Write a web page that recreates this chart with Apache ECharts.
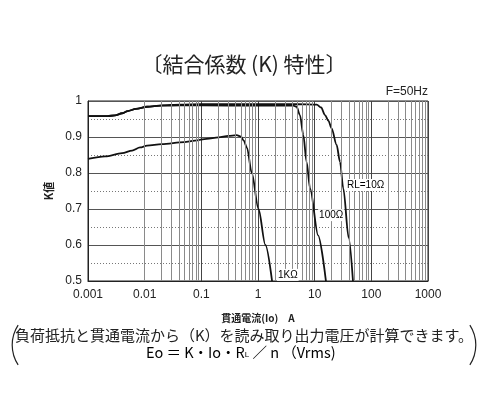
<!DOCTYPE html>
<html><head><meta charset="utf-8">
<script src="https://cdn.jsdelivr.net/npm/echarts@6/dist/echarts.min.js"></script>
<style>html,body{margin:0;padding:0;background:#fff}#c{width:488px;height:413px}</style>
</head><body><div id="c"></div>
<script>
// ---- data ----
const x10 = [0.001,0.0022,0.003,0.004,0.005,0.007,0.011,0.02,0.042,0.1,1,5,10.9,13,15.2,17.5,19.9,24.4,28,32,39.8,47.4];
const y10 = [0.958,0.958,0.960,0.966,0.972,0.978,0.984,0.988,0.990,0.991,0.991,0.991,0.990,0.982,0.961,0.945,0.924,0.878,0.831,0.757,0.620,0.500];
const x100 = [0.001,0.0022,0.003,0.004,0.005,0.007,0.011,0.02,0.042,0.1,1,4.2,4.8,5.5,6.3,7.2,8.3,11.5,15.8];
const y100 = [0.958,0.958,0.960,0.966,0.972,0.978,0.984,0.987,0.988,0.988,0.987,0.987,0.984,0.961,0.906,0.831,0.757,0.627,0.500];
const x1k = [0.001,0.002,0.004,0.006,0.0083,0.011,0.02,0.05,0.077,0.124,0.2,0.3,0.42,0.5,0.56,0.64,0.776,1.02,1.35,1.77];
const y1k = [0.839,0.846,0.855,0.862,0.871,0.876,0.880,0.886,0.890,0.895,0.899,0.903,0.905,0.901,0.890,0.870,0.800,0.700,0.600,0.500];
const xTicks = [0.001,0.01,0.1,1,10,100,1000];
const yTicks = [0.5,0.6,0.7,0.8,0.9,1];
const curveLabels = ['RL=10Ω','100Ω','1KΩ'];
const labelAnchors = [[35.7,0.767],[11.5,0.683],[2.16,0.517]];

const minorX = [];
for (let d = 0; d < xTicks.length - 1; d++) {
  for (let m = 2; m <= 9; m++) minorX.push(+(xTicks[d] * m).toPrecision(3));
}
const zip = (xs, ys) => xs.map((x, i) => [x, ys[i]]);

const CJK = '"Noto Sans CJK JP","Noto Sans",sans-serif';
const NUM = '"Liberation Sans",Arial,sans-serif';
const lineStyle = {color:'#111', width:1.8};

const chart = echarts.init(document.getElementById('c'), null, {renderer:'canvas'});
chart.setOption({
  animation:false,
  backgroundColor:'#fff',
  title:{text:'〔結合係数 (K) 特性〕', left:'center', top:54, padding:0,
    textStyle:{fontFamily:CJK, fontSize:21, fontWeight:'normal', color:'#222'}},
  grid:{left:88, top:101, width:340, height:180, show:true, borderColor:'#222', borderWidth:1, backgroundColor:'transparent'},
  xAxis:{type:'log', logBase:10, min:0.001, max:1000,
    name:'貫通電流(Io)　A', nameLocation:'middle', nameGap:32,
    nameTextStyle:{fontFamily:CJK, fontSize:10, fontWeight:'bold', color:'#222'},
    axisLine:{lineStyle:{color:'#222'}}, axisTick:{show:false},
    axisLabel:{fontFamily:NUM, fontSize:12, color:'#222', margin:8,
      formatter:v => { const t = xTicks.find(t => Math.abs(t - v) / t < 1e-6); return t === undefined ? '' : String(t); }},
    splitLine:{show:true, lineStyle:{color:'#444', width:1}}},
  yAxis:{type:'value', min:0.5, max:1, interval:0.1,
    name:'K値', nameLocation:'middle', nameGap:34, nameRotate:90,
    nameTextStyle:{fontFamily:CJK, fontSize:11, fontWeight:'bold', color:'#222'},
    axisLine:{show:true, lineStyle:{color:'#222'}}, axisTick:{show:false},
    axisLabel:{fontFamily:NUM, fontSize:12, color:'#222', margin:6,
      formatter:v => { const t = yTicks.find(t => Math.abs(t - v) < 1e-6); return t === undefined ? '' : String(t); }},
    splitLine:{show:true, lineStyle:{color:'#555', width:1}},
    minorTick:{show:true, splitNumber:2, length:0},
    minorSplitLine:{show:true, lineStyle:{color:'#777', width:1, type:[1,2]}}},
  graphic:[
    {type:'text', right:60, top:86, style:{text:'F=50Hz', font:'12px '+NUM, fill:'#222'}},
    {type:'text', left:'center', top:328, style:{text:'負荷抵抗と貫通電流から（K）を読み取り出力電圧が計算できます。', font:'15px '+CJK, fill:'#222', textAlign:'center'}},
    {type:'text', left:146, top:345, style:{
      text:'{a|Eo ＝ K・Io・R}{s|L}{a| ／ n （Vrms)}',
      rich:{a:{fontFamily:CJK, fontSize:14.5, color:'#222'},
            s:{fontFamily:NUM, fontSize:8, color:'#222', padding:[6,0,0,0]}}}},
    {type:'arc', shape:{cx:48.5, cy:345, r:36.3, startAngle:Math.PI-0.58, endAngle:Math.PI+0.58, clockwise:true},
      style:{stroke:'#222', lineWidth:1.2, fill:null}},
    {type:'arc', shape:{cx:439.5, cy:345, r:36.3, startAngle:-0.58, endAngle:0.58, clockwise:true},
      style:{stroke:'#222', lineWidth:1.2, fill:null}}
  ],
  series:[
    {type:'line', name:'grid', data:[], silent:true,
      markLine:{silent:true, symbol:['none','none'], label:{show:false},
        lineStyle:{color:'#8a8a8a', width:1, type:'solid'},
        data:minorX.map(v => ({xAxis:v}))}},
    {type:'line', name:curveLabels[0], data:zip(x10,y10), showSymbol:false, smooth:0.3, smoothMonotone:'x', lineStyle},
    {type:'line', name:curveLabels[1], data:zip(x100,y100), showSymbol:false, smooth:0.3, smoothMonotone:'x', lineStyle},
    {type:'line', name:curveLabels[2], data:zip(x1k,y1k), showSymbol:false, smooth:0.3, smoothMonotone:'x', lineStyle},
    {type:'scatter', name:'labels', silent:true, z:10, symbolSize:0, itemStyle:{color:'#fff', opacity:1},
      data:labelAnchors.map((c, i) => ({value:c, name:curveLabels[i]})),
      label:{show:true, position:'right', distance:0, formatter:p => p.name, opacity:1,
        fontFamily:NUM, fontSize:10, fontWeight:'normal', color:'#000', backgroundColor:'#fff', padding:[1,1]}}
  ]
});
</script></body></html>
